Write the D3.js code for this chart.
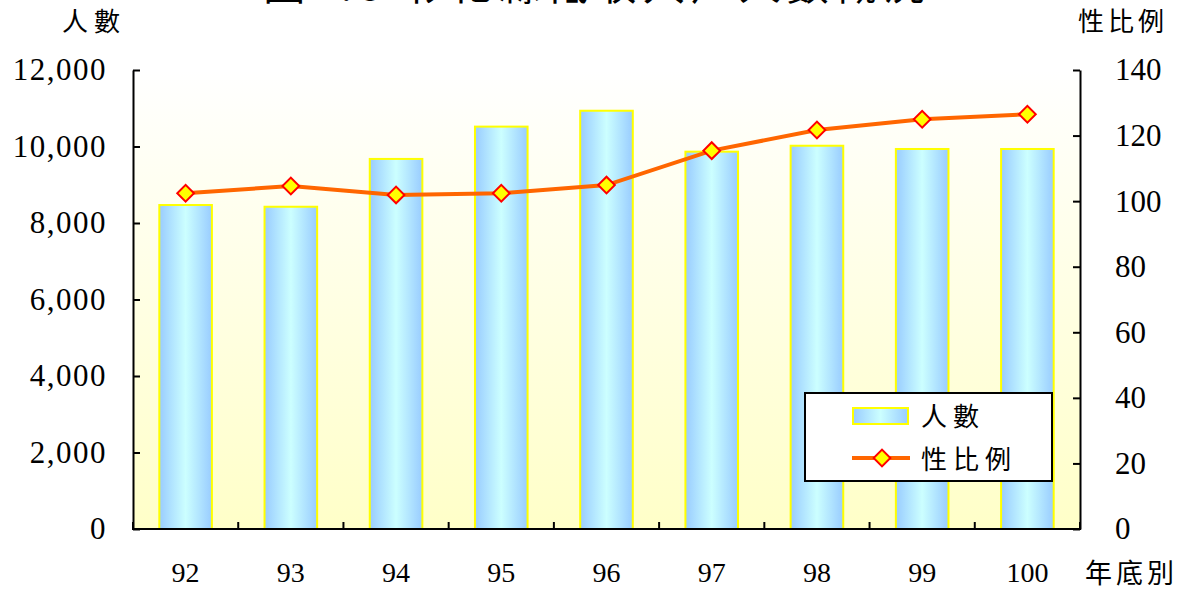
<!DOCTYPE html>
<html>
<head>
<meta charset="utf-8">
<script src="https://cdn.jsdelivr.net/npm/d3@7"></script>
<style>
  body { margin: 0; background: #fff; }
  svg { display: block; }
  .num { font-family: "Liberation Serif", "DejaVu Serif", serif; }
  .cjk { font-family: "Noto Sans CJK TC", "Noto Sans CJK SC", sans-serif; }
</style>
</head>
<body>
<div class="canvas"></div>
<script>
var years = ["92", "93", "94", "95", "96", "97", "98", "99", "100"];
var people = [8470, 8425, 9675, 10520, 10935, 9865, 10020, 9935, 9935];
var sexRatio = [102.4, 104.6, 101.9, 102.4, 104.9, 115.4, 121.7, 125.0, 126.5];
var leftTicks = [0, 2000, 4000, 6000, 8000, 10000, 12000];
var rightTicks = [0, 20, 40, 60, 80, 100, 120, 140];

var width = 1189,
    height = 590;

var svg = d3.select(".canvas").append("svg")
    .attr("width", width)
    .attr("height", height);

var plotLeft = 133, plotRight = 1080, plotTop = 70, plotBottom = 529;

var x = d3.scaleBand().domain(years).range([plotLeft, plotRight])
    .paddingInner(0.5).paddingOuter(0.25);
var yL = d3.scaleLinear().domain([0, 12000]).range([plotBottom, plotTop]);
var yR = d3.scaleLinear().domain([0, 140]).range([plotBottom, plotTop]);

var defs = svg.append("defs");
var bg = defs.append("linearGradient").attr("id", "bg")
    .attr("x1", 0).attr("y1", 0).attr("x2", 0).attr("y2", 1);
bg.append("stop").attr("offset", "0%").attr("stop-color", "#ffffff");
bg.append("stop").attr("offset", "100%").attr("stop-color", "#ffffc8");

var barGrad = defs.append("linearGradient").attr("id", "barGrad")
    .attr("x1", 0).attr("y1", 0).attr("x2", 1).attr("y2", 0);
barGrad.append("stop").attr("offset", "0%").attr("stop-color", "#99ccff");
barGrad.append("stop").attr("offset", "50%").attr("stop-color", "#ccffff");
barGrad.append("stop").attr("offset", "100%").attr("stop-color", "#99ccff");

// plot background
svg.append("rect")
    .attr("x", plotLeft).attr("y", plotTop)
    .attr("width", plotRight - plotLeft).attr("height", plotBottom - plotTop)
    .attr("fill", "url(#bg)");

// title (cut off at the top edge like the original)
svg.append("text")
    .attr("class", "cjk")
    .attr("x", 597).attr("y", 0)
    .attr("text-anchor", "middle")
    .attr("font-size", 42)
    .attr("letter-spacing", 6)
    .text("圖1.8 彰化縣低收入戶人數概況");

svg.append("text").attr("class", "cjk")
    .attr("x", 62).attr("y", 31)
    .attr("font-size", 26).attr("letter-spacing", 6)
    .text("人數");
svg.append("text").attr("class", "cjk")
    .attr("x", 1078).attr("y", 31)
    .attr("font-size", 26).attr("letter-spacing", 4)
    .text("性比例");

// bars
svg.append("g").selectAll("rect")
    .data(people)
    .enter().append("rect")
    .attr("x", function(d, i) { return x(years[i]); })
    .attr("y", function(d) { return yL(d); })
    .attr("width", x.bandwidth())
    .attr("height", function(d) { return plotBottom - yL(d); })
    .attr("fill", "url(#barGrad)")
    .attr("stroke", "#ffff00")
    .attr("stroke-width", 2);

// axes
var axL = svg.append("g")
    .attr("transform", "translate(" + plotLeft + ",0)")
    .call(d3.axisLeft(yL).tickValues(leftTicks).tickSize(-7).tickSizeOuter(0)
        .tickPadding(26).tickFormat(d3.format(",")));
var axR = svg.append("g")
    .attr("transform", "translate(" + plotRight + ",0)")
    .call(d3.axisRight(yR).tickValues(rightTicks).tickSize(-7).tickSizeOuter(0)
        .tickPadding(35));
[axL, axR].forEach(function(ax) {
    ax.selectAll("path, line").attr("stroke", "#000").attr("stroke-width", 2);
    ax.selectAll("text").attr("class", "num").attr("font-size", 31)
        .attr("font-family", null).attr("fill", "#000");
});
axL.selectAll("text").attr("letter-spacing", 1.5);

// x axis
svg.append("line")
    .attr("x1", plotLeft - 1).attr("x2", plotRight + 1)
    .attr("y1", plotBottom).attr("y2", plotBottom)
    .attr("stroke", "#000").attr("stroke-width", 2);
var bounds = years.map(function(d) { return x(d) + x.bandwidth() / 2 - x.step() / 2; });
bounds.push(plotRight);
svg.append("g").selectAll("line")
    .data(bounds)
    .enter().append("line")
    .attr("x1", function(d) { return d; }).attr("x2", function(d) { return d; })
    .attr("y1", plotBottom).attr("y2", plotBottom - 7)
    .attr("stroke", "#000").attr("stroke-width", 2);
svg.append("g").selectAll("text")
    .data(years)
    .enter().append("text")
    .attr("class", "num")
    .attr("x", function(d) { return x(d) + x.bandwidth() / 2; })
    .attr("y", 582)
    .attr("text-anchor", "middle")
    .attr("font-size", 28)
    .text(function(d) { return d; });
svg.append("text").attr("class", "cjk")
    .attr("x", 1085).attr("y", 583)
    .attr("font-size", 27).attr("letter-spacing", 4)
    .text("年底別");

// sex ratio line
var line = d3.line()
    .x(function(d, i) { return x(years[i]) + x.bandwidth() / 2; })
    .y(function(d) { return yR(d); });
svg.append("path")
    .datum(sexRatio)
    .attr("d", line)
    .attr("fill", "none")
    .attr("stroke", "#ff6600")
    .attr("stroke-width", 4);

var diamond = d3.symbol().type(d3.symbolSquare).size(140);
svg.append("g").selectAll("path")
    .data(sexRatio)
    .enter().append("path")
    .attr("d", diamond)
    .attr("transform", function(d, i) {
        return "translate(" + (x(years[i]) + x.bandwidth() / 2) + "," + yR(d) + ") rotate(45)";
    })
    .attr("fill", "#ffff00")
    .attr("stroke", "#ff0000")
    .attr("stroke-width", 2);

// legend
var lg = svg.append("g");
lg.append("rect")
    .attr("x", 805).attr("y", 393).attr("width", 247).attr("height", 88)
    .attr("fill", "#fff").attr("stroke", "#000").attr("stroke-width", 2);
lg.append("rect")
    .attr("x", 853).attr("y", 408).attr("width", 55).attr("height", 16)
    .attr("fill", "url(#barGrad)").attr("stroke", "#ffff00").attr("stroke-width", 2);
lg.append("text").attr("class", "cjk")
    .attr("x", 921).attr("y", 426)
    .attr("font-size", 26).attr("letter-spacing", 6)
    .text("人數");
lg.append("line")
    .attr("x1", 852).attr("x2", 910).attr("y1", 458).attr("y2", 458)
    .attr("stroke", "#ff6600").attr("stroke-width", 4);
lg.append("path")
    .attr("d", diamond)
    .attr("transform", "translate(882,458) rotate(45)")
    .attr("fill", "#ffff00").attr("stroke", "#ff0000").attr("stroke-width", 2);
lg.append("text").attr("class", "cjk")
    .attr("x", 921).attr("y", 469)
    .attr("font-size", 26).attr("letter-spacing", 6)
    .text("性比例");
</script>
</body>
</html>
